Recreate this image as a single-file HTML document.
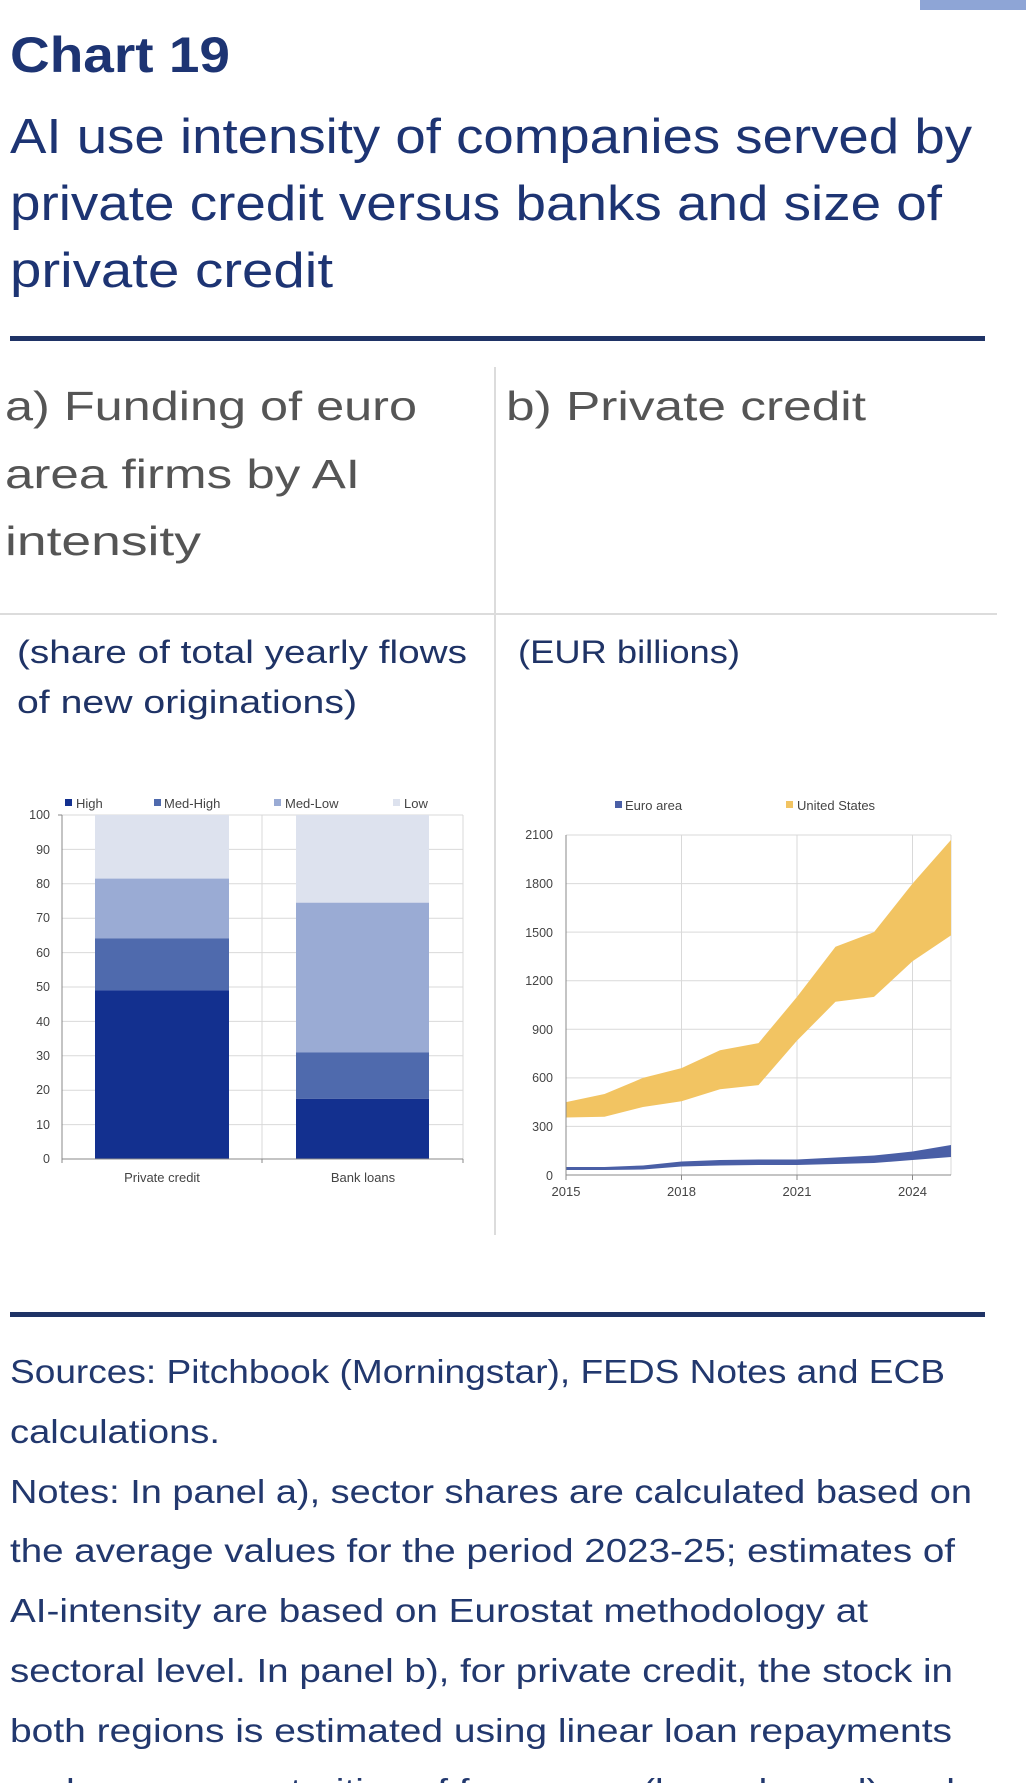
<!DOCTYPE html>
<html><head><meta charset="utf-8"><style>
html,body{margin:0;padding:0;background:#fff;}
svg{display:block;}
</style></head><body>
<svg width="1036" height="1783" viewBox="0 0 1036 1783" xmlns="http://www.w3.org/2000/svg" font-family="'Liberation Sans', sans-serif">
<rect x="920" y="0" width="106" height="10" fill="#8ea5d6"/>
<text x="10" y="72" font-size="50" font-weight="bold" fill="#1d3473" textLength="220" lengthAdjust="spacingAndGlyphs">Chart 19</text>
<g font-size="49" fill="#1d3473">
<text x="10" y="153" textLength="962" lengthAdjust="spacingAndGlyphs">AI use intensity of companies served by</text>
<text x="10" y="220" textLength="932" lengthAdjust="spacingAndGlyphs">private credit versus banks and size of</text>
<text x="10" y="287" textLength="323" lengthAdjust="spacingAndGlyphs">private credit</text>
</g>
<rect x="10" y="336" width="975" height="5" fill="#1f3366"/>
<line x1="495" y1="367" x2="495" y2="1235" stroke="#dcdcdc" stroke-width="2"/>
<line x1="0" y1="614" x2="997" y2="614" stroke="#dcdcdc" stroke-width="2"/>
<g font-size="41" fill="#555">
<text x="5" y="420" textLength="412" lengthAdjust="spacingAndGlyphs">a) Funding of euro</text>
<text x="5" y="488" textLength="355" lengthAdjust="spacingAndGlyphs">area firms by AI</text>
<text x="5" y="555" textLength="196" lengthAdjust="spacingAndGlyphs">intensity</text>
<text x="506" y="420" textLength="360" lengthAdjust="spacingAndGlyphs">b) Private credit</text>
</g>
<g font-size="32" fill="#1f3366">
<text x="17" y="663" textLength="450" lengthAdjust="spacingAndGlyphs">(share of total yearly flows</text>
<text x="17" y="713" textLength="340" lengthAdjust="spacingAndGlyphs">of new originations)</text>
<text x="518" y="663" textLength="222" lengthAdjust="spacingAndGlyphs">(EUR billions)</text>
</g>
<!-- Panel a -->
<g stroke="#d9d9d9" stroke-width="1">
<line x1="62" y1="1124.6" x2="463" y2="1124.6"/><line x1="62" y1="1090.2" x2="463" y2="1090.2"/>
<line x1="62" y1="1055.8" x2="463" y2="1055.8"/><line x1="62" y1="1021.4" x2="463" y2="1021.4"/>
<line x1="62" y1="987" x2="463" y2="987"/><line x1="62" y1="952.6" x2="463" y2="952.6"/>
<line x1="62" y1="918.2" x2="463" y2="918.2"/><line x1="62" y1="883.8" x2="463" y2="883.8"/>
<line x1="62" y1="849.4" x2="463" y2="849.4"/><line x1="62" y1="815" x2="463" y2="815"/>
<line x1="262" y1="815" x2="262" y2="1159"/><line x1="463" y1="815" x2="463" y2="1159"/>
</g>
<rect x="95" y="815" width="134" height="63.6" fill="#dde2ee"/>
<rect x="95" y="878.6" width="134" height="59.8" fill="#9aabd4"/>
<rect x="95" y="938.4" width="134" height="52" fill="#4f6aad"/>
<rect x="95" y="990.4" width="134" height="168.6" fill="#13308f"/>
<rect x="296" y="815" width="133" height="87.7" fill="#dde2ee"/>
<rect x="296" y="902.7" width="133" height="149.7" fill="#9aabd4"/>
<rect x="296" y="1052.4" width="133" height="46.4" fill="#4f6aad"/>
<rect x="296" y="1098.8" width="133" height="60.2" fill="#13308f"/>
<g stroke="#888" stroke-width="1">
<line x1="62" y1="815" x2="62" y2="1159"/><line x1="62" y1="1159" x2="463" y2="1159"/>
<line x1="62" y1="1159" x2="62" y2="1163"/><line x1="262" y1="1159" x2="262" y2="1163"/><line x1="463" y1="1159" x2="463" y2="1163"/>
<line x1="58" y1="815" x2="62" y2="815"/>
</g>
<g font-size="12.5" fill="#444" text-anchor="end">
<text x="50" y="1163">0</text><text x="50" y="1129">10</text><text x="50" y="1094">20</text>
<text x="50" y="1060">30</text><text x="50" y="1026">40</text><text x="50" y="991">50</text>
<text x="50" y="957">60</text><text x="50" y="922">70</text><text x="50" y="888">80</text>
<text x="50" y="854">90</text><text x="50" y="819">100</text>
</g>
<g font-size="13" fill="#444" text-anchor="middle">
<text x="162" y="1182">Private credit</text><text x="363" y="1182">Bank loans</text>
</g>
<g font-size="13" fill="#444">
<rect x="65" y="799" width="7" height="7" fill="#13308f"/><text x="76" y="808">High</text>
<rect x="154" y="799" width="7" height="7" fill="#4f6aad"/><text x="164" y="808">Med-High</text>
<rect x="274" y="799" width="7" height="7" fill="#9aabd4"/><text x="285" y="808">Med-Low</text>
<rect x="393" y="799" width="7" height="7" fill="#dde2ee"/><text x="404" y="808">Low</text>
</g>
<!-- Panel b: x = 566 + (yr-2015)*38.5 -->
<g stroke="#d9d9d9" stroke-width="1">
<line x1="566" y1="835" x2="951" y2="835"/><line x1="566" y1="883.6" x2="951" y2="883.6"/>
<line x1="566" y1="932.1" x2="951" y2="932.1"/><line x1="566" y1="980.7" x2="951" y2="980.7"/>
<line x1="566" y1="1029.3" x2="951" y2="1029.3"/><line x1="566" y1="1077.9" x2="951" y2="1077.9"/>
<line x1="566" y1="1126.4" x2="951" y2="1126.4"/>
<line x1="681.5" y1="835" x2="681.5" y2="1175"/><line x1="797" y1="835" x2="797" y2="1175"/>
<line x1="912.5" y1="835" x2="912.5" y2="1175"/><line x1="951" y1="835" x2="951" y2="1175"/>
</g>
<path d="M566,1102.1 L604.5,1094 L643,1077.9 L681.5,1068.1 L720,1050.3 L758.5,1043.1 L797,996.9 L835.5,946.7 L874,932.1 L912.5,883.6 L951,839.9 L951,935.4 L912.5,961.3 L874,996.9 L835.5,1001.8 L797,1040.6 L758.5,1085.1 L720,1089.2 L681.5,1101.3 L643,1107 L604.5,1116.7 L566,1117.5 Z" fill="#f2c462"/>
<path d="M566,1167 L604.5,1167 L643,1165.5 L681.5,1161.5 L720,1160 L758.5,1159.5 L797,1159.5 L835.5,1157.5 L874,1155.5 L912.5,1151.5 L951,1145 L951,1157 L912.5,1160 L874,1163 L835.5,1164 L797,1165 L758.5,1165 L720,1165.5 L681.5,1166.5 L643,1169.5 L604.5,1170 L566,1170 Z" fill="#4a5fa6"/>
<g stroke="#888" stroke-width="1">
<line x1="566" y1="835" x2="566" y2="1180"/><line x1="566" y1="1175" x2="951" y2="1175"/>
<line x1="681.5" y1="1175" x2="681.5" y2="1180"/><line x1="797" y1="1175" x2="797" y2="1180"/><line x1="912.5" y1="1175" x2="912.5" y2="1180"/>
</g>
<g font-size="12.5" fill="#444" text-anchor="end">
<text x="553" y="1180">0</text><text x="553" y="1131">300</text><text x="553" y="1082">600</text>
<text x="553" y="1034">900</text><text x="553" y="985">1200</text><text x="553" y="937">1500</text>
<text x="553" y="888">1800</text><text x="553" y="839">2100</text>
</g>
<g font-size="13" fill="#444" text-anchor="middle">
<text x="566" y="1196">2015</text><text x="681.5" y="1196">2018</text><text x="797" y="1196">2021</text><text x="912.5" y="1196">2024</text>
</g>
<g font-size="13" fill="#444">
<rect x="615" y="801" width="7" height="7" fill="#4a5fa6"/><text x="625" y="810">Euro area</text>
<rect x="786" y="801" width="7" height="7" fill="#f2c462"/><text x="797" y="810">United States</text>
</g>
<rect x="10" y="1312" width="975" height="5" fill="#1f3366"/>
<g font-size="33" fill="#22386e">
<text x="10" y="1383" textLength="935" lengthAdjust="spacingAndGlyphs">Sources: Pitchbook (Morningstar), FEDS Notes and ECB</text>
<text x="10" y="1443" textLength="210" lengthAdjust="spacingAndGlyphs">calculations.</text>
<text x="10" y="1503" textLength="962" lengthAdjust="spacingAndGlyphs">Notes: In panel a), sector shares are calculated based on</text>
<text x="10" y="1562" textLength="945" lengthAdjust="spacingAndGlyphs">the average values for the period 2023-25; estimates of</text>
<text x="10" y="1622" textLength="858" lengthAdjust="spacingAndGlyphs">AI-intensity are based on Eurostat methodology at</text>
<text x="10" y="1682" textLength="943" lengthAdjust="spacingAndGlyphs">sectoral level. In panel b), for private credit, the stock in</text>
<text x="10" y="1742" textLength="942" lengthAdjust="spacingAndGlyphs">both regions is estimated using linear loan repayments</text>
<text x="10" y="1802" textLength="945" lengthAdjust="spacingAndGlyphs">and average maturities of four years (lower bound) and</text>
</g>
</svg>
</body></html>
